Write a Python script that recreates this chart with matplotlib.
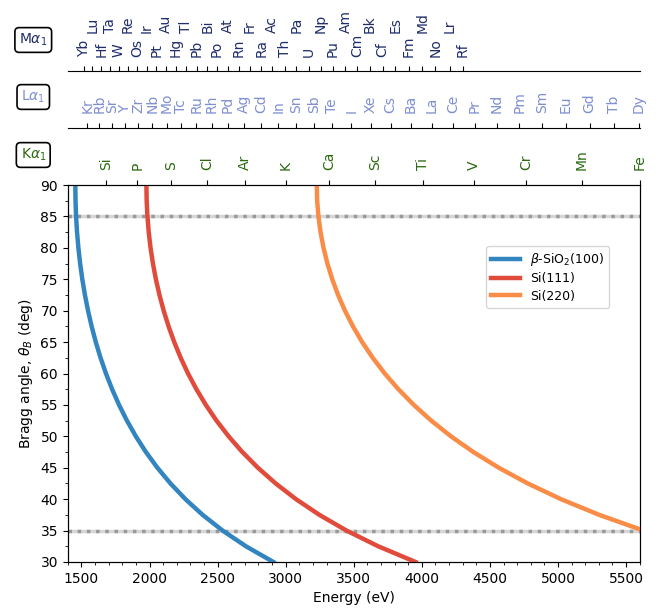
import matplotlib
matplotlib.use("Agg")
import matplotlib.pyplot as plt

# ======== Bragg curves: angle (deg) vs energy (eV)
angles = [90, 87.5, 85, 82.5, 80, 77.5, 75, 72.5, 70, 67.5, 65, 62.5, 60,
          57.5, 55, 52.5, 50, 47.5, 45, 42.5, 40, 37.5, 35, 32.5, 30]
e_sio2 = [1455, 1456.4, 1460.6, 1467.6, 1477.5, 1490.3, 1506.3, 1525.6, 1548.4,
          1574.9, 1605.4, 1640.3, 1680.1, 1725.2, 1776.2, 1834.0, 1899.4, 1973.5,
          2057.7, 2153.7, 2263.6, 2390.1, 2536.7, 2708.0, 2910]
e_si111 = [1977, 1978.9, 1984.6, 1994.1, 2007.5, 2025.0, 2046.7, 2072.9, 2103.9,
           2139.9, 2181.4, 2228.8, 2282.8, 2344.1, 2413.5, 2491.9, 2580.8, 2681.5,
           2795.9, 2926.3, 3075.7, 3247.6, 3446.8, 3679.5, 3954]
e_si220 = [3228, 3231.1, 3240.3, 3255.9, 3277.8, 3306.4, 3341.9, 3384.7, 3435.2,
           3494.0, 3561.7, 3639.2, 3727.4, 3827.4, 3940.7, 4068.8, 4213.9, 4378.3,
           4565.1, 4778.1, 5021.9, 5302.6, 5627.8, 6008, 6456]
crystals = [r"$\beta$-SiO$_2$(100)", "Si(111)", "Si(220)"]
colors = ["#3385c0", "#e04b3c", "#f98d48"]

# ======== emission lines (eV)
ka_el = ["Si", "P", "S", "Cl", "Ar", "K", "Ca", "Sc", "Ti", "V", "Cr", "Mn", "Fe"]
ka_E = [1740.0, 2013.7, 2307.8, 2622.4, 2957.7, 3313.8, 3691.7, 4090.6, 4510.8,
        4952.2, 5414.7, 5898.8, 6403.8]
la_el = ["Kr", "Rb", "Sr", "Y", "Zr", "Nb", "Mo", "Tc", "Ru", "Rh", "Pd", "Ag", "Cd",
         "In", "Sn", "Sb", "Te", "I", "Xe", "Cs", "Ba", "La", "Ce", "Pr", "Nd", "Pm",
         "Sm", "Eu", "Gd", "Tb", "Dy"]
la_E = [1586.0, 1694.1, 1806.6, 1922.6, 2042.4, 2165.9, 2293.2, 2424.0, 2558.5,
        2696.8, 2838.6, 2984.3, 3133.7, 3286.9, 3444.0, 3604.7, 3769.3, 3937.7,
        4109.9, 4286.5, 4466.3, 4651.0, 4840.2, 5033.7, 5230.4, 5432.5, 5636.1,
        5845.7, 6057.2, 6272.8, 6495.2]
ma_el = ["Yb", "Lu", "Hf", "Ta", "W", "Re", "Os", "Ir", "Pt", "Au", "Hg", "Tl", "Pb",
         "Bi", "Po", "At", "Rn", "Fr", "Ra", "Ac", "Th", "Pa", "U", "Np", "Pu", "Am",
         "Cm", "Bk", "Cf", "Es", "Fm", "Md", "No", "Lr", "Rf"]
ma_E = [1521, 1581, 1645, 1710, 1775, 1842, 1910, 1980, 2051, 2123, 2195, 2271, 2345,
        2423, 2496, 2577, 2656, 2736, 2822, 2896, 2996, 3079, 3171, 3258, 3348, 3439,
        3527, 3617, 3711, 3806, 3904, 4004, 4100, 4205, 4302]

ka_col = "#2b6a10"
la_col = "#7f8fd0"
ma_col = "#1f2d6b"

plt.rcParams["font.size"] = 10
fig = plt.figure(figsize=(6.65, 6.12), dpi=100)
ax = fig.add_axes([0.102, 0.0817, 0.860, 0.616])

for y0 in (85, 35):
    ax.axhline(y0, color="0.84", lw=2.5, zorder=1)
    ax.axhline(y0, color="0.6", lw=2.5, ls=":", zorder=1)

for e, lab, c in zip([e_sio2, e_si111, e_si220], crystals, colors):
    ax.plot(e, angles, color=c, lw=3.2, label=lab, zorder=3)

ax.set_xlim(1400, 5600)
ax.set_ylim(30, 90)
ax.set_xticks(range(1500, 5501, 500))
ax.set_xticks(range(1400, 5601, 100), minor=True)
ax.set_yticks(range(30, 91, 5))
ax.set_yticks([30 + 2.5 * i for i in range(25)], minor=True)
ax.set_xlabel("Energy (eV)")
ax.set_ylabel(r"Bragg angle, $\theta_B$ (deg)")
ax.legend(loc="center right", bbox_to_anchor=(0.958, 0.756), fontsize=9,
          handlelength=2.3, labelspacing=0.35)

# ======== K alpha row (top of the plot)
axk = ax.twiny()
axk.set_xlim(1408, 6404)
axk.set_xticks(ka_E, ka_el)
axk.tick_params(axis="x", labelrotation=90, labelcolor=ka_col, pad=7)

# ======== L alpha row
axl = ax.twiny()
axl.set_xlim(1414, 6504)
for s in ["left", "right", "bottom"]:
    axl.spines[s].set_visible(False)
axl.spines["top"].set_position(("outward", 41))
axl.set_xticks(la_E, la_el)
axl.tick_params(axis="x", labelrotation=90, labelcolor=la_col, pad=7)

# ======== M alpha row (staggered labels)
axm = ax.twiny()
axm.set_xlim(1400, 5600)
for s in ["left", "right", "bottom"]:
    axm.spines[s].set_visible(False)
axm.spines["top"].set_position(("outward", 82))
axm.set_xticks(ma_E[0::2], ma_el[0::2])
axm.set_xticks(ma_E[1::2], ma_el[1::2], minor=True)
axm.tick_params(axis="x", which="both", labelrotation=90, labelcolor=ma_col,
                length=3.5, width=0.8)
axm.tick_params(axis="x", which="major", pad=7)
axm.tick_params(axis="x", which="minor", pad=24)

box = dict(boxstyle="round,pad=0.3", fc="white", ec="black", lw=1.2)
fig.text(0.05, 1 - 40 / 612, r"M$\alpha_1$", color=ma_col, ha="center", va="center", bbox=box)
fig.text(0.05, 1 - 97 / 612, r"L$\alpha_1$", color=la_col, ha="center", va="center", bbox=box)
fig.text(0.05, 1 - 155 / 612, r"K$\alpha_1$", color=ka_col, ha="center", va="center", bbox=box)

fig.savefig("out.png", dpi=100)
